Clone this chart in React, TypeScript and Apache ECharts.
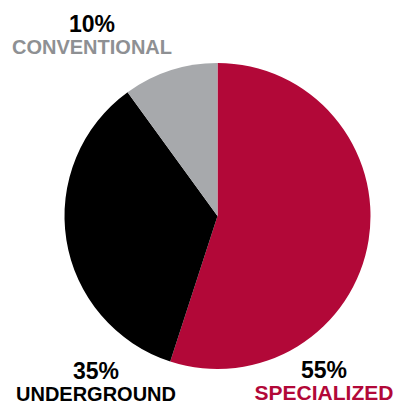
import React, { useEffect, useRef } from "react";
import * as echarts from "echarts";

const categories = ["SPECIALIZED", "UNDERGROUND", "CONVENTIONAL"];
const values = [55, 35, 10];
const colors = ["#B20838", "#000000", "#A7A9AC"];
const labelColors = ["#B20838", "#000000", "#8E9093"];
const nameSizes = [21, 20, 20];
// label anchor centers (x, y of percent line) per category
const labelPos = [
  [324, 370],
  [96, 371],
  [92, 24],
];

export default function App() {
  const ref = useRef<HTMLDivElement>(null);
  useEffect(() => {
    if (!ref.current) return;
    const chart = echarts.init(ref.current, null, { renderer: "svg" });
    const font = "'Liberation Sans', Arial, sans-serif";
    const graphics: any[] = [];
    categories.forEach((c, i) => {
      const [x, y] = labelPos[i];
      graphics.push({
        type: "text",
        x,
        y,
        style: {
          text: values[i] + "%",
          fill: "#000",
          font: `bold 23px ${font}`,
          textAlign: "center",
          textVerticalAlign: "middle",
        },
      });
      graphics.push({
        type: "text",
        x,
        y: y + 22.5,
        style: {
          text: c,
          fill: labelColors[i],
          font: `bold ${nameSizes[i]}px ${font}`,
          textAlign: "center",
          textVerticalAlign: "middle",
        },
      });
    });
    chart.setOption({
      animation: false,
      graphic: graphics,
      series: [
        {
          type: "pie",
          center: [217.5, 216],
          radius: 153,
          startAngle: 90,
          clockwise: true,
          label: { show: false },
          labelLine: { show: false },
          emphasis: { disabled: true },
          data: categories.map((c, i) => ({
            name: c,
            value: values[i],
            itemStyle: { color: colors[i] },
          })),
        },
      ],
    });
    return () => chart.dispose();
  }, []);
  return (
    <div
      ref={ref}
      style={{ position: "fixed", left: 0, top: 0, width: 401, height: 403, background: "#fff" }}
    />
  );
}
